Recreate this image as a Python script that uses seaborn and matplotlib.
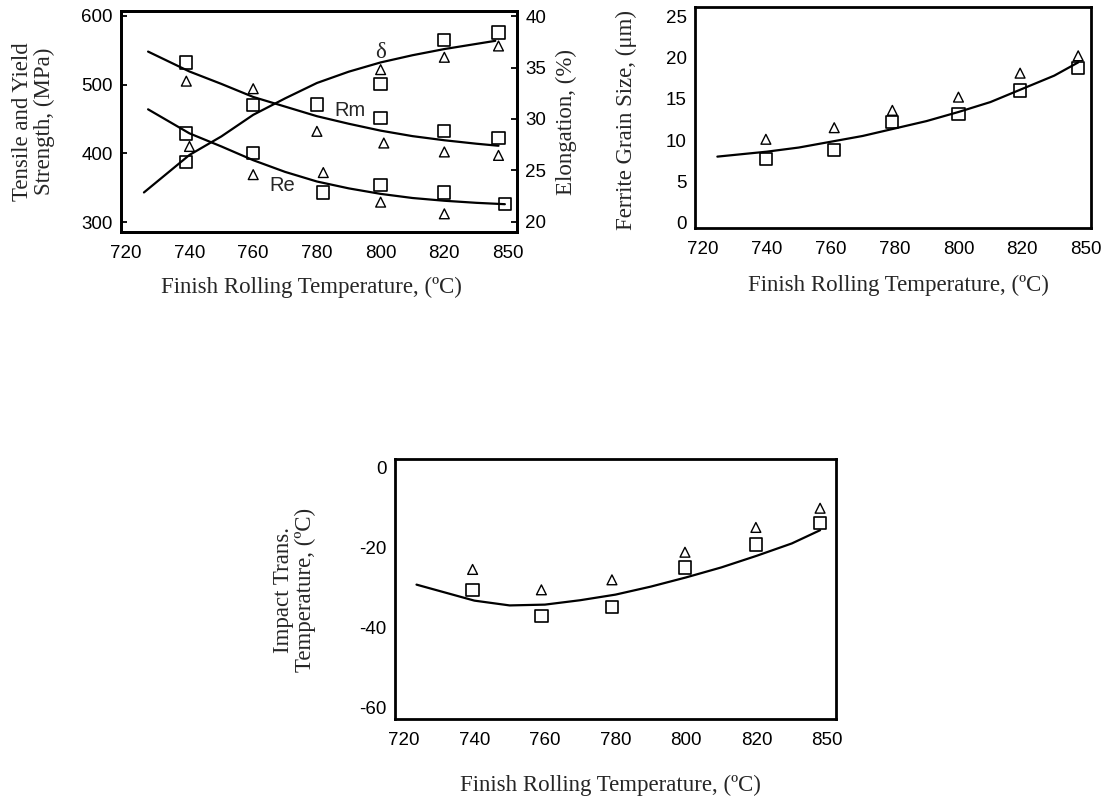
import matplotlib
matplotlib.use("Agg")
import matplotlib.pyplot as plt
import seaborn as sns

# ---------------- data ----------------
tick_pos = [720, 740, 760, 780, 800, 820, 840]
tick_labels = ["720", "740", "760", "780", "800", "820", "850"]

# Panel 1: strength (MPa) and elongation (%)
rm_sq_x = [739, 760, 780, 800, 820, 837]
rm_sq = [532, 470, 471, 451, 432, 422]
rm_tri_x = [739, 760, 780, 801, 820, 837]
rm_tri = [505, 494, 432, 415, 402, 397]
re_sq_x = [739, 760, 782, 800, 820, 839]
re_sq = [429, 400, 343, 354, 343, 326]
re_tri_x = [740, 760, 782, 800, 820]
re_tri = [410, 369, 372, 329, 312]
el_sq_x = [739, 800, 820, 837]
el_sq = [25.8, 33.4, 37.7, 38.4]
el_tri_x = [800, 820, 837]
el_tri = [34.8, 36.0, 37.1]

rm_fit_x = [727, 740, 750, 760, 770, 780, 790, 800, 810, 820, 830, 837]
rm_fit = [548, 519, 501, 482, 468, 454, 443, 433, 425, 419, 414, 411]
re_fit_x = [727, 740, 750, 760, 770, 780, 790, 800, 810, 820, 830, 839]
re_fit = [464, 429, 410, 390, 373, 359, 349, 341, 335, 331, 328, 326]
el_fit_x = [725.7, 740, 750, 760, 770, 780, 790, 800, 810, 820, 830, 836]
el_fit = [22.85, 26.5, 28.3, 30.4, 32.0, 33.5, 34.6, 35.5, 36.2, 36.8, 37.3, 37.6]

# Panel 2: ferrite grain size (um)
gs_x = [739.7, 761.1, 779.3, 800, 819.3, 837.5]
gs_sq = [7.7, 8.8, 12.2, 13.2, 16.0, 18.7]
gs_tri = [10.1, 11.5, 13.6, 15.2, 18.1, 20.2]
gs_fit_x = [724.5, 740, 750, 760, 770, 780, 790, 800, 810, 820, 830, 837.5]
gs_fit = [8.0, 8.6, 9.1, 9.8, 10.5, 11.4, 12.3, 13.4, 14.6, 16.2, 17.8, 19.4]

# Panel 3: impact transition temperature (C)
itt_x = [739.5, 759, 779, 799.7, 819.8, 838]
itt_sq = [-30.7, -37.2, -34.9, -25.0, -19.3, -13.9]
itt_tri = [-25.5, -30.6, -28.1, -21.2, -15.0, -10.2]
itt_fit_x = [723.6, 740, 750, 760, 770, 780, 790, 800, 810, 820, 830, 838]
itt_fit = [-29.3, -33.3, -34.5, -34.3, -33.2, -31.8, -29.8, -27.5, -25.0, -22.1, -19.0, -15.7]

# ---------------- style ----------------
sns.set_style("white")
plt.rcParams['font.family'] = ['Liberation Sans', 'DejaVu Sans']
plt.rcParams['axes.unicode_minus'] = False
SERIF = ['Liberation Serif', 'DejaVu Serif']
TICK_FS = 13.5
LABEL_FS = 16.5

fig = plt.figure(figsize=(11.03, 7.99), dpi=100)
fig.patch.set_facecolor("white")


def style_axes(ax):
    for sp in ax.spines.values():
        sp.set_visible(True)
        sp.set_color("black")
        sp.set_linewidth(2.0)
    ax.tick_params(axis='both', direction='in', length=4, width=1.3,
                   labelsize=TICK_FS, colors='black')
    ax.tick_params(axis='x', pad=9)
    ax.tick_params(axis='y', pad=6)
    ax.grid(False)


def squares(ax, x, y):
    sns.scatterplot(x=x, y=y, ax=ax, marker='s', s=78, color='black',
                    facecolors='none', edgecolor='black', linewidth=1.2, zorder=3)


def triangles(ax, x, y):
    sns.scatterplot(x=x, y=y, ax=ax, marker='^', s=50, color='black',
                    facecolors='none', edgecolor='black', linewidth=1.0, zorder=3)


def fit(ax, x, y):
    sns.lineplot(x=x, y=y, ax=ax, color='black', linewidth=1.6,
                 sort=False, estimator=None, zorder=2)


XLAB = "Finish Rolling Temperature, (ºC)"

# ---------------- panel 1 ----------------
ax1 = fig.add_axes([0.1097, 0.7096, 0.3590, 0.2766])
fit(ax1, rm_fit_x, rm_fit)
fit(ax1, re_fit_x, re_fit)
squares(ax1, rm_sq_x, rm_sq)
triangles(ax1, rm_tri_x, rm_tri)
squares(ax1, re_sq_x, re_sq)
triangles(ax1, re_tri_x, re_tri)
ax1.set_xlim(718.5, 842.8)
ax1.set_ylim(285.5, 607)
ax1.set_xticks(tick_pos)
ax1.set_xticklabels(tick_labels)
ax1.set_yticks([300, 400, 500, 600])
style_axes(ax1)
ax1.set_xlabel(XLAB, fontsize=LABEL_FS, family=SERIF)
ax1.xaxis.set_label_coords(0.482, -0.203)
ax1.set_ylabel("Tensile and Yield\nStrength, (MPa)", fontsize=LABEL_FS, family=SERIF,
               va='center', ha='center', linespacing=1.05)
ax1.yaxis.set_label_coords(-0.222, 0.5)
ax1.text(790.5, 463, "Rm", fontsize=TICK_FS + 1, ha='center', va='center')
ax1.text(769, 353, "Re", fontsize=TICK_FS + 1, ha='center', va='center')

ax1b = ax1.twinx()
fit(ax1b, el_fit_x, el_fit)
squares(ax1b, el_sq_x, el_sq)
triangles(ax1b, el_tri_x, el_tri)
ax1b.set_ylim(19.0, 40.5)
ax1b.set_yticks([20, 25, 30, 35, 40])
style_axes(ax1b)
ax1b.set_xlim(718.5, 842.8)
ax1b.set_ylabel("Elongation, (%)", fontsize=LABEL_FS, family=SERIF,
                va='center', ha='center')
ax1b.yaxis.set_label_coords(1.126, 0.5)
ax1b.text(800, 36.5, "δ", fontsize=TICK_FS + 3, ha='center', va='center', family=SERIF)

# ---------------- panel 2 ----------------
ax2 = fig.add_axes([0.6301, 0.7146, 0.3590, 0.2766])
fit(ax2, gs_fit_x, gs_fit)
squares(ax2, gs_x, gs_sq)
triangles(ax2, gs_x, gs_tri)
ax2.set_xlim(717.5, 841.5)
ax2.set_ylim(-0.64, 26.1)
ax2.set_xticks(tick_pos)
ax2.set_xticklabels(tick_labels)
ax2.set_yticks([0, 5, 10, 15, 20, 25])
style_axes(ax2)
ax2.set_xlabel(XLAB, fontsize=LABEL_FS, family=SERIF)
ax2.xaxis.set_label_coords(0.513, -0.21)
ax2.set_ylabel("Ferrite Grain Size, (μm)", fontsize=LABEL_FS, family=SERIF,
               va='center', ha='center')
ax2.yaxis.set_label_coords(-0.172, 0.49)

# ---------------- panel 3 ----------------
ax3 = fig.add_axes([0.3581, 0.1001, 0.3998, 0.3254])
fit(ax3, itt_fit_x, itt_fit)
squares(ax3, itt_x, itt_sq)
triangles(ax3, itt_x, itt_tri)
ax3.set_xlim(717.5, 842.5)
ax3.set_ylim(-62.9, 2.1)
ax3.set_xticks(tick_pos)
ax3.set_xticklabels(tick_labels)
ax3.set_yticks([0, -20, -40, -60])
style_axes(ax3)
ax3.set_xlabel(XLAB, fontsize=LABEL_FS, family=SERIF)
ax3.xaxis.set_label_coords(0.488, -0.215)
ax3.set_ylabel("Impact Trans.\nTemperature, (ºC)", fontsize=LABEL_FS, family=SERIF,
               va='center', ha='center', linespacing=1.05)
ax3.yaxis.set_label_coords(-0.227, 0.496)

fig.savefig("out.png", dpi=100, facecolor="white")
